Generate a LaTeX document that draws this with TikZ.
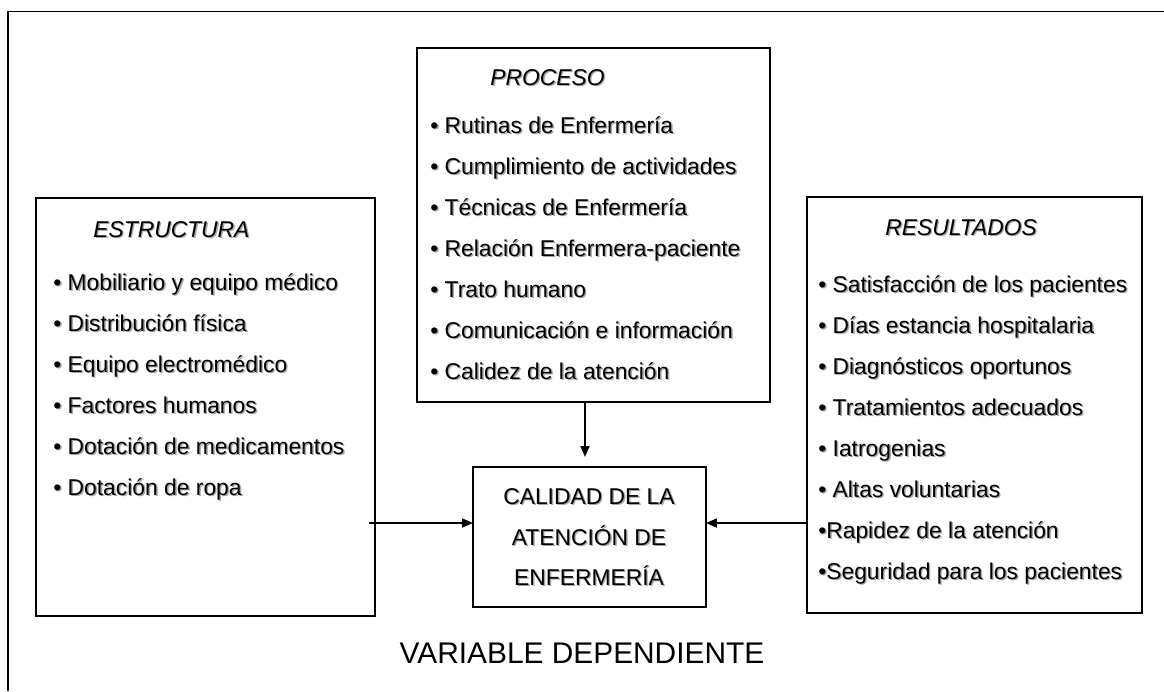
\documentclass[tikz,border=0pt]{standalone}
\usepackage{fontspec}
\setmainfont{Liberation Sans}
\usetikzlibrary{arrows.meta}
% text with a soft grey shadow
\newcommand{\shd}[1]{\leavevmode\rlap{\kern0.8pt\raisebox{-0.8pt}{\color{black!35}#1}}#1}
\begin{document}
\begin{tikzpicture}[x=0.02cm, y=-0.02cm,
		box/.style={draw, line width=0.8pt, inner sep=0pt, outer sep=0pt},
		item/.style={anchor=base west, inner sep=0pt, font=\fontsize{13}{15}\selectfont},
		head/.style={anchor=base west, inner sep=0pt, font=\fontsize{13}{15}\selectfont\itshape},
		arrow/.style={line width=1pt, -{Triangle[length=0.22cm, width=0.18cm]}}]
		\useasboundingbox (0,0) rectangle (1164,691);

		% Frame
		\draw[line width=0.6pt] (8,691) -- (8,11.5) -- (1164,11.5);

		% Boxes
		\node[box, minimum width=6.78cm, minimum height=8.36cm] (estructura) at (205.5,407) {};
		\node[box, minimum width=7.06cm, minimum height=7.08cm] (proceso) at (593.5,225) {};
		\node[box, minimum width=6.70cm, minimum height=8.32cm] (resultados) at (974.5,405) {};
		\node[box, minimum width=4.66cm, minimum height=2.80cm] (calidad) at (589.5,537) {};

		% Estructura
		\node[head] (hEst) at (93,237) {\shd{ESTRUCTURA}};
		\node[item] (e1) at (53,290) {\shd{• Mobiliario y equipo médico}};
		\node[item] (e2) at (53,331) {\shd{• Distribución física}};
		\node[item] (e3) at (53,372) {\shd{• Equipo electromédico}};
		\node[item] (e4) at (53,413) {\shd{• Factores humanos}};
		\node[item] (e5) at (53,454) {\shd{• Dotación de medicamentos}};
		\node[item] (e6) at (53,495) {\shd{• Dotación de ropa}};

		% Proceso
		\node[head] (hPro) at (490,85) {\shd{PROCESO}};
		\node[item] (p1) at (430,133) {\shd{• Rutinas de Enfermería}};
		\node[item] (p2) at (430,174) {\shd{• Cumplimiento de actividades}};
		\node[item] (p3) at (430,215) {\shd{• Técnicas de Enfermería}};
		\node[item] (p4) at (430,256) {\shd{• Relación Enfermera-paciente}};
		\node[item] (p5) at (430,297) {\shd{• Trato humano}};
		\node[item] (p6) at (430,338) {\shd{• Comunicación e información}};
		\node[item] (p7) at (430,379) {\shd{• Calidez de la atención}};

		% Resultados
		\node[head] (hRes) at (885,235) {\shd{RESULTADOS}};
		\node[item] (r1) at (818,292) {\shd{• Satisfacción de los pacientes}};
		\node[item] (r2) at (818,333) {\shd{• Días estancia hospitalaria}};
		\node[item] (r3) at (818,374) {\shd{• Diagnósticos oportunos}};
		\node[item] (r4) at (818,415) {\shd{• Tratamientos adecuados}};
		\node[item] (r5) at (818,456) {\shd{• Iatrogenias}};
		\node[item] (r6) at (818,497) {\shd{• Altas voluntarias}};
		\node[item] (r7) at (818,538) {\shd{•Rapidez de la atención}};
		\node[item] (r8) at (818,579) {\shd{•Seguridad para los pacientes}};

		% Calidad
		\node[item, anchor=base] (c1) at (589,504) {\shd{CALIDAD DE LA}};
		\node[item, anchor=base] (c2) at (589,545) {\shd{ATENCIÓN DE}};
		\node[item, anchor=base] (c3) at (589,585) {\shd{ENFERMERÍA}};

		% Caption
		\node[anchor=base, inner sep=0pt, font=\fontsize{17}{20}\selectfont] (var) at (582,663) {VARIABLE DEPENDIENTE};

		% Arrows
		\coordinate (pdown) at (585,457);
		\coordinate (lstart) at (369,523);
		\draw[arrow] (proceso.south -| pdown) -- (pdown);
		\draw[arrow] (lstart) -- (lstart -| calidad.west);
		\draw[arrow] (resultados.west |- lstart) -- (calidad.east |- lstart);
	\end{tikzpicture}
\end{document}
